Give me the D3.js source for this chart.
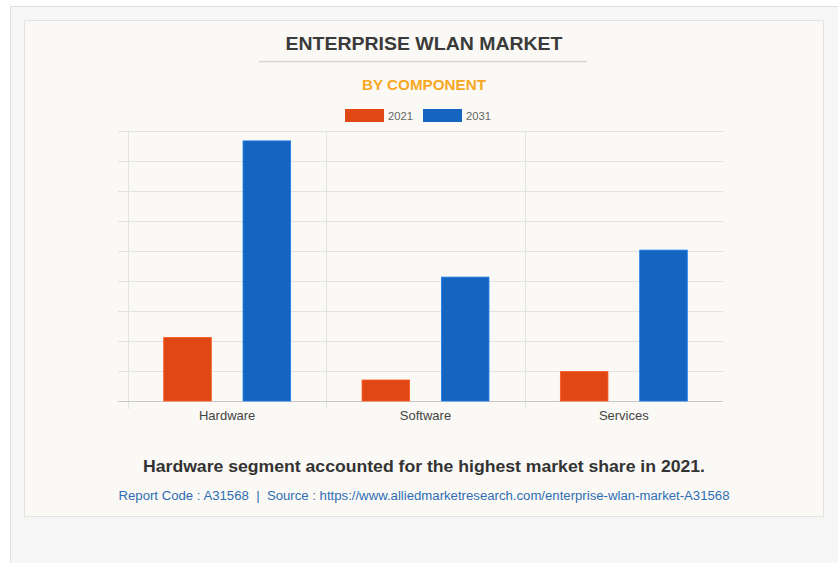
<!DOCTYPE html>
<html lang="en">
  <head>
    <meta charset="UTF-8" />
    <title>Enterprise WLAN Market by Component</title>
    <script src="https://cdn.jsdelivr.net/npm/d3@7/dist/d3.min.js"></script>
    <style>
      body { margin: 0; background: #fff; }
      svg { display: block; font-family: 'Liberation Sans', Arial, sans-serif; }
    </style>
  </head>
  <body>
    <svg width="838" height="563"></svg>
    <script>
      // data (units of one gridline step)
      const categories = ['Hardware', 'Software', 'Services']
      const years = ['2021', '2031']
      const values2021 = [2.12, 0.7, 0.98]
      const values2031 = [8.67, 4.13, 5.03]
      const colors = ['#DF4815', '#1565C0']

      const svg = d3.select('svg')

      // page frame + card
      svg.append('rect').attr('x', 10.5).attr('y', 6.5).attr('width', 840).attr('height', 570)
        .attr('fill', '#f6f6f6').attr('stroke', '#dedede')
      svg.append('rect').attr('x', 24.5).attr('y', 20.5).attr('width', 799).attr('height', 496)
        .attr('fill', '#faf9f5').attr('stroke', '#e2e2e2')

      // titles
      svg.append('text').attr('x', 424).attr('y', 50).attr('text-anchor', 'middle')
        .attr('font-size', 18).attr('font-weight', 'bold').attr('fill', '#3a3a3a')
        .attr('textLength', 277).attr('lengthAdjust', 'spacingAndGlyphs')
        .text('ENTERPRISE WLAN MARKET')
      svg.append('line').attr('x1', 259).attr('x2', 587).attr('y1', 61.5).attr('y2', 61.5)
        .attr('stroke', '#d6d6d6').attr('stroke-width', 1.5)
      svg.append('text').attr('x', 424).attr('y', 90).attr('text-anchor', 'middle')
        .attr('font-size', 14).attr('font-weight', 'bold').attr('fill', '#F7A823')
        .attr('textLength', 124).attr('lengthAdjust', 'spacingAndGlyphs')
        .text('BY COMPONENT')

      // legend
      const legendX = [345, 423]
      const legend = svg.append('g').selectAll('g').data(years).enter().append('g')
        .attr('transform', (d, i) => `translate(${legendX[i]},109)`)
      legend.append('rect').attr('width', 39).attr('height', 13).attr('fill', (d, i) => colors[i])
      legend.append('text').attr('x', 43).attr('y', 10.5).attr('font-size', 11)
        .attr('fill', '#666').attr('textLength', 25).attr('lengthAdjust', 'spacingAndGlyphs')
        .text((d) => d)

      // scales
      const x0 = d3.scaleBand().domain(categories).range([128, 723]).padding(0)
      const x1 = d3.scaleBand().domain(years).range([0, x0.bandwidth()])
        .paddingInner(0.4).paddingOuter(0.45)
      const y = d3.scaleLinear().domain([0, 9]).range([401, 131])

      // grid
      const grid = svg.append('g')
      grid.selectAll('line.h').data(d3.range(1, 10)).enter().append('line')
        .attr('x1', 118).attr('x2', 723)
        .attr('y1', (d) => Math.round(y(d)) + 0.5).attr('y2', (d) => Math.round(y(d)) + 0.5)
        .attr('stroke', '#e3e3e3')
      grid.selectAll('line.v').data(categories).enter().append('line')
        .attr('x1', (d) => Math.round(x0(d)) + 0.5).attr('x2', (d) => Math.round(x0(d)) + 0.5)
        .attr('y1', 131).attr('y2', 409)
        .attr('stroke', '#e3e3e3')
      grid.append('line').attr('x1', 118).attr('x2', 723).attr('y1', 401.5).attr('y2', 401.5)
        .attr('stroke', '#c8c8c8')

      // bars
      const rows = categories.map((c, i) => ({ cat: c, vals: [values2021[i], values2031[i]] }))
      const groups = svg.append('g').selectAll('g').data(rows).enter().append('g')
        .attr('transform', (d) => `translate(${x0(d.cat)},0)`)
      groups.selectAll('rect').data((d) => d.vals.map((v, i) => ({ year: years[i], v, i }))).enter()
        .append('rect')
        .attr('x', (d) => x1(d.year))
        .attr('width', x1.bandwidth())
        .attr('y', (d) => y(d.v))
        .attr('height', (d) => y(0) - y(d.v))
        .attr('fill', (d) => colors[d.i])
        .attr('stroke', (d) => d3.color(colors[d.i]).brighter(0.6))
        .attr('stroke-width', 0.8)

      // category labels
      svg.append('g').selectAll('text').data(categories).enter().append('text')
        .attr('x', (d) => x0(d) + x0.bandwidth() / 2).attr('y', 420)
        .attr('text-anchor', 'middle').attr('font-size', 13).attr('fill', '#444')
        .text((d) => d)

      // footer
      svg.append('text').attr('x', 424).attr('y', 472).attr('text-anchor', 'middle')
        .attr('font-size', 16).attr('font-weight', 'bold').attr('fill', '#333')
        .attr('textLength', 562).attr('lengthAdjust', 'spacingAndGlyphs')
        .text('Hardware segment accounted for the highest market share in 2021.')
      svg.append('text').attr('x', 424).attr('y', 500).attr('text-anchor', 'middle')
        .attr('font-size', 12).attr('fill', '#2E6DB4')
        .style('white-space', 'pre')
        .attr('textLength', 611).attr('lengthAdjust', 'spacingAndGlyphs')
        .text('Report Code : A31568  |  Source : https://www.alliedmarketresearch.com/enterprise-wlan-market-A31568')
    </script>
  </body>
</html>
